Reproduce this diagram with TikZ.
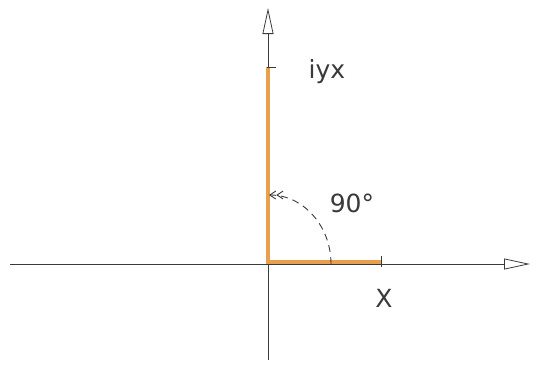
\documentclass[tikz,border=0pt]{standalone}
\usepackage{fontspec}
\setmainfont{DejaVu Sans}
\usetikzlibrary{arrows.meta}
\definecolor{rod}{HTML}{E8A04C}
\definecolor{ink}{HTML}{3A3A3A}
\tikzset{
  axis/.style={draw=ink, line width=0.8pt, -{Triangle[open, length=26pt, width=11pt]}},
  rodline/.style={draw=rod, line width=4pt},
  tick/.style={draw=ink, line width=1pt},
  arcline/.style={draw=ink, line width=0.9pt, dash pattern=on 7pt off 5pt},
  lbl/.style={font=\fontsize{25}{27}\selectfont, text=ink, inner sep=0pt}
}
\begin{document}
\begin{tikzpicture}[x=1pt, y=-1pt]
\useasboundingbox (0,0) rectangle (536,365);
\coordinate (O) at (268,264);
\coordinate (xl) at (10,264);
\coordinate (xr) at (530,264);
\coordinate (yb) at (268,360);
\coordinate (yt) at (268,8);
\coordinate (vtop) at (268,67);
\coordinate (hend) at (381,262);
\coordinate (vbot) at (268,262);
\draw[axis] (xl) -- (xr);
\draw[axis] (yb) -- (yt);
\draw[rodline] (vtop) -- (vbot) -- (hend);
\draw[tick] ([xshift=-1pt]vtop) -- ++(9,0);
\draw[tick] (hend) ++(0,-6) -- ++(0,11);
\draw[arcline, -{Straight Barb[length=6pt,width=8pt] Straight Barb[length=6pt,width=8pt]}]
  (331,264) arc[start angle=0, end angle=-90, x radius=62, y radius=69];
\node[lbl] (l90) at (352,203) {90°};
\node[lbl] (liyx) at (327,72) {iyx};
\node[lbl] (lx) at (384,298) {X};
\end{tikzpicture}
\end{document}
